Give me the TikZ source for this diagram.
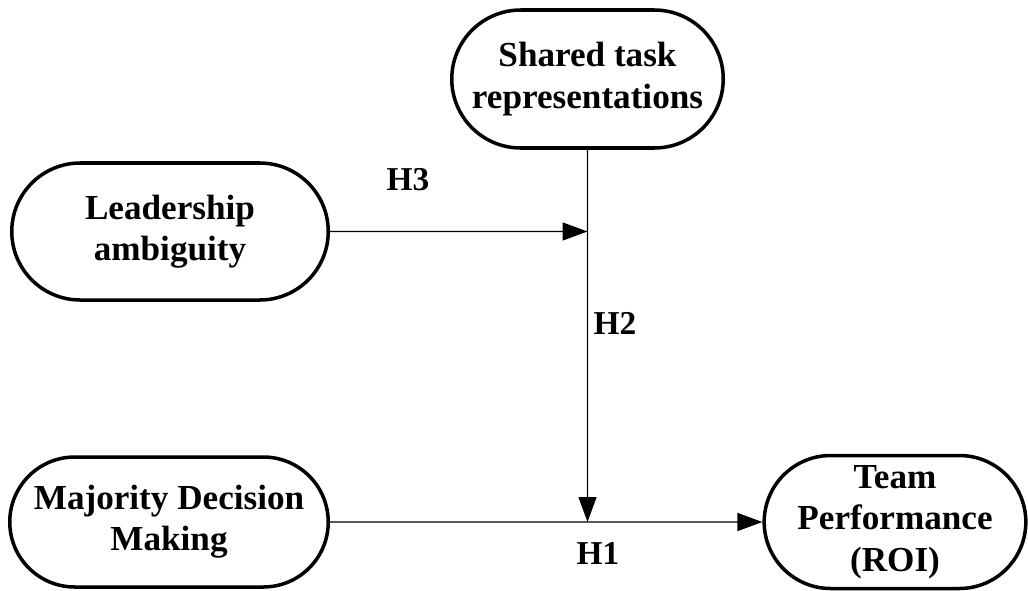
\documentclass[tikz,border=0pt]{standalone}
\usepackage{fontspec}
\setmainfont{Liberation Serif}
\usetikzlibrary{shapes.misc,arrows.meta}

\begin{document}
\begin{tikzpicture}[
  var/.style={rounded rectangle, draw, line width=2pt, align=center,
    font=\fontsize{20}{23.5}\selectfont\bfseries, inner sep=1pt},
  hyp/.style={font=\fontsize{19}{22}\selectfont\bfseries},
  path/.style={line width=0.8pt, -{Triangle[length=0.5cm,width=0.36cm]}}]
\useasboundingbox (0,0) rectangle (20.56,-11.8);
\node[var, minimum width=5.5cm, minimum height=2.76cm] (shared) at (11.75,-1.58) {Shared task\\representations};
\node[var, minimum width=6.4cm, minimum height=2.74cm] (lead) at (3.4,-4.63) {Leadership\\ambiguity};
\node[var, minimum width=6.44cm, minimum height=2.6cm] (major) at (3.38,-10.44) {Majority Decision\\Making};
\node[var, minimum width=5.1cm, minimum height=2.66cm] (team) at (17.9,-10.44) {Team\\Performance\\(ROI)};
\coordinate (j3) at (shared.south |- lead);
\coordinate (j1) at (shared.south |- major);
\draw[path] (lead) -- (j3);
\draw[path] (shared) -- (j1);
\draw[path] (major) -- (team);
\node[hyp] (h3) at (8.16,-3.6) {H3};
\node[hyp] (h2) at (12.3,-6.46) {H2};
\node[hyp] (h1) at (11.96,-11.06) {H1};
\end{tikzpicture}
\end{document}
